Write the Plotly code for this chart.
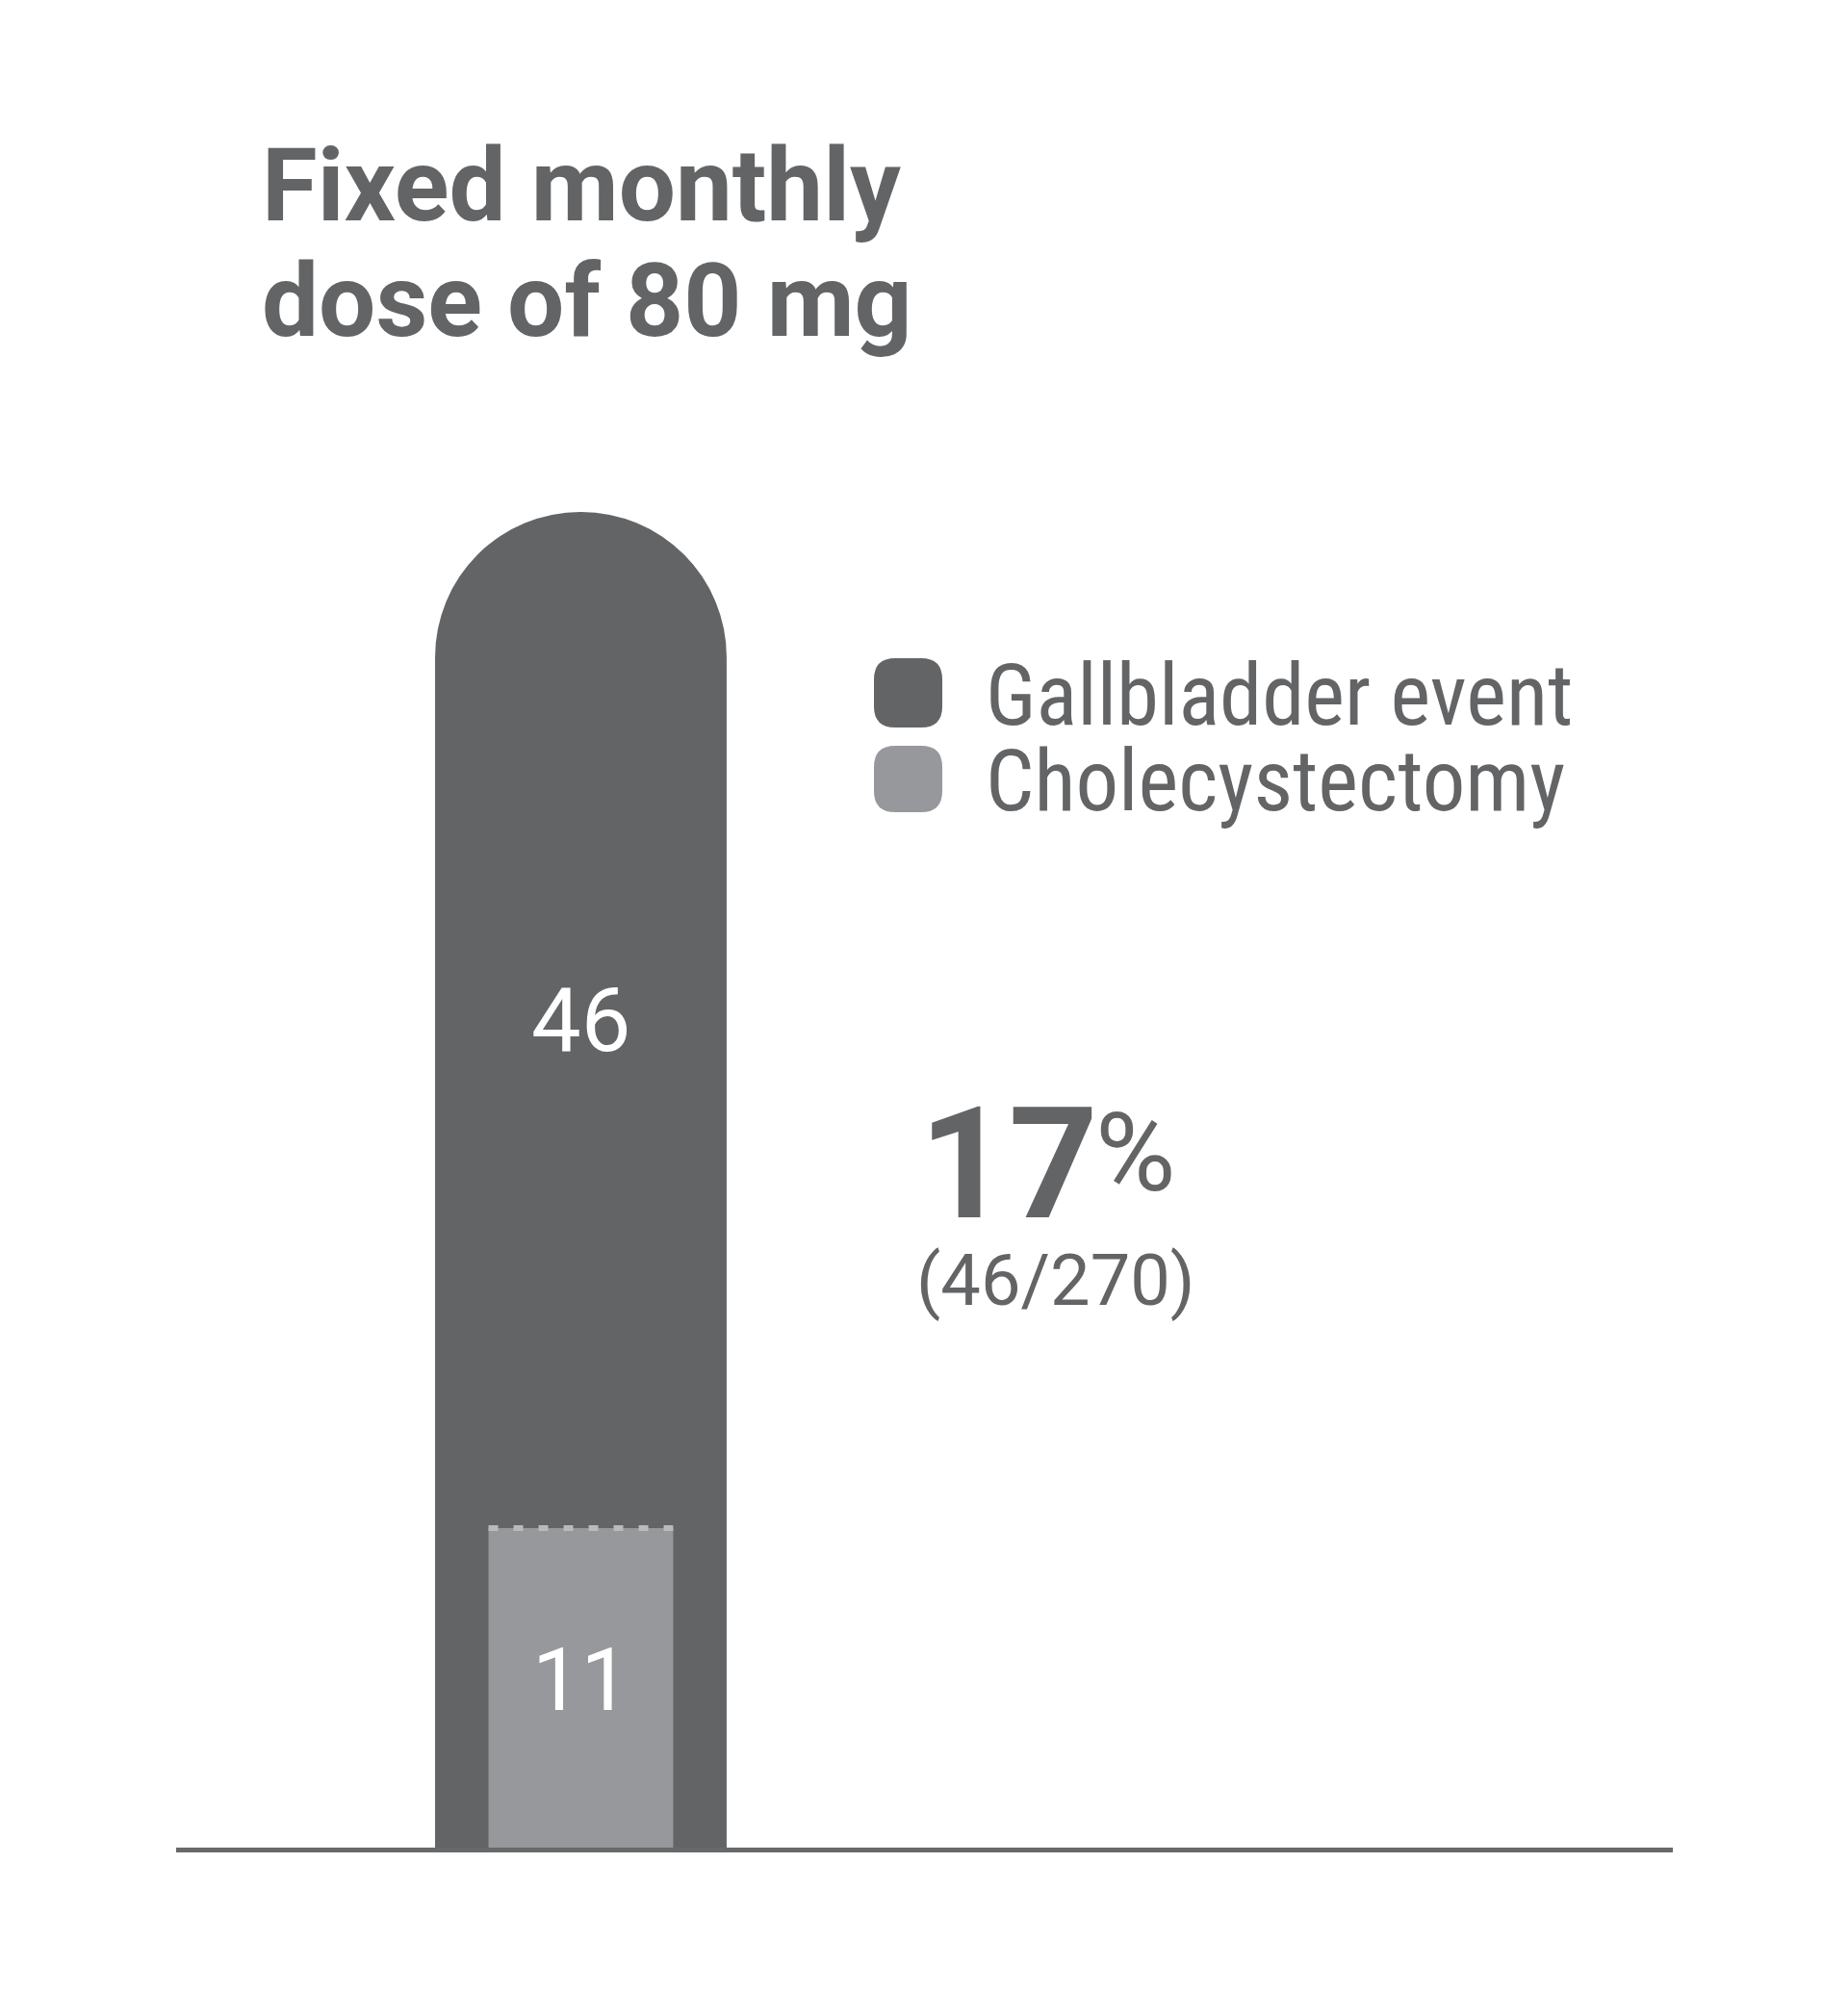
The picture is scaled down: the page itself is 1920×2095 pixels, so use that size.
import plotly.graph_objects as go

# ---- data ----
categories = ["Fixed monthly dose of 80 mg"]
gallbladder_events = [46]
cholecystectomy = [11]
total_patients = [270]
series_names = ["Gallbladder event", "Cholecystectomy"]
title_lines = ["Fixed monthly", "dose of 80 mg"]

# ---- style ----
DARK = "#636466"
LIGHT = "#97989b"
TEXT = "#636466"
FIG_W, FIG_H = 1920, 2095
OFF = 8  # page body margin
L, R, T, B = 183 - OFF, 182 + OFF, 100 - OFF, 175 + OFF
PW = FIG_W - L - R
PH = FIG_H - T - B


def px(xp):
    return (xp - OFF - L) / PW


def py(yp):
    return (FIG_H - B - (yp - OFF)) / PH


def rounded_rect(x0, y0, x1, y1, r):
    X = lambda v: px(v)
    Y = lambda v: py(v)
    return (f"M {X(x0 + r)},{Y(y0)} L {X(x1 - r)},{Y(y0)} Q {X(x1)},{Y(y0)} {X(x1)},{Y(y0 + r)} "
            f"L {X(x1)},{Y(y1 - r)} Q {X(x1)},{Y(y1)} {X(x1 - r)},{Y(y1)} "
            f"L {X(x0 + r)},{Y(y1)} Q {X(x0)},{Y(y1)} {X(x0)},{Y(y1 - r)} "
            f"L {X(x0)},{Y(y0 + r)} Q {X(x0)},{Y(y0)} {X(x0 + r)},{Y(y0)} Z")


outer_w = 0.974
inner_w = 0.617

fig = go.Figure()
fig.add_trace(go.Bar(
    x=categories, y=gallbladder_events, name=series_names[0],
    width=outer_w, marker=dict(color=DARK, cornerradius="50%", line=dict(width=0)),
    hoverinfo="skip",
))
fig.add_trace(go.Bar(
    x=categories, y=cholecystectomy, name=series_names[1],
    width=inner_w, marker=dict(color=LIGHT, line=dict(width=0)),
    hoverinfo="skip",
))

# dotted edge on top of the inner bar
fig.add_shape(type="line", xref="x", yref="y",
              x0=-inner_w / 2, x1=inner_w / 2, y0=cholecystectomy[0], y1=cholecystectomy[0],
              line=dict(color="#b9babc", width=6, dash="10px,16px"))

ann = []
ann.append(dict(x=categories[0], y=(gallbladder_events[0] + cholecystectomy[0]) / 2, xref="x", yref="y",
                text=str(gallbladder_events[0]), showarrow=False,
                font=dict(family="Roboto", size=92, color="white")))
ann.append(dict(x=categories[0], y=cholecystectomy[0] / 2, xref="x", yref="y", yshift=8,
                text=str(cholecystectomy[0]), showarrow=False,
                font=dict(family="Roboto", size=90, color="white")))

# title
ann.append(dict(x=px(270), y=py(193), xref="paper", yref="paper", xanchor="left", yanchor="middle",
                text=f"<b>{title_lines[0]}</b>", showarrow=False,
                font=dict(family="Roboto", size=105, color=TEXT)))
ann.append(dict(x=px(270), y=py(313), xref="paper", yref="paper", xanchor="left", yanchor="middle",
                text=f"<b>{title_lines[1]}</b>", showarrow=False,
                font=dict(family="Roboto", size=105, color=TEXT)))

# legend
NARROW = "Liberation Sans Narrow, Arial Narrow, Roboto Condensed, Roboto"
fig.add_shape(type="path", xref="paper", yref="paper", path=rounded_rect(908, 684, 979, 756, 22),
              fillcolor=DARK, line=dict(width=0))
fig.add_shape(type="path", xref="paper", yref="paper", path=rounded_rect(908, 775, 979, 844, 22),
              fillcolor=LIGHT, line=dict(width=0))
ann.append(dict(x=px(1022), y=py(722), xref="paper", yref="paper", xanchor="left", yanchor="middle",
                text=series_names[0], showarrow=False, font=dict(family=NARROW, size=89, color=TEXT)))
ann.append(dict(x=px(1022), y=py(811), xref="paper", yref="paper", xanchor="left", yanchor="middle",
                text=series_names[1], showarrow=False, font=dict(family=NARROW, size=89, color=TEXT)))

# percentage
pct = round(100 * gallbladder_events[0] / total_patients[0])
ann.append(dict(x=px(953), y=py(1210), xref="paper", yref="paper", xanchor="left", yanchor="middle",
                text=f"<b>{pct}</b>", showarrow=False, font=dict(family="Roboto", size=162, color=TEXT)))
ann.append(dict(x=px(1136), y=py(1198), xref="paper", yref="paper", xanchor="left", yanchor="middle",
                text="%", showarrow=False, font=dict(family="Roboto", size=114, color=TEXT)))
ann.append(dict(x=px(950), y=py(1330), xref="paper", yref="paper", xanchor="left", yanchor="middle",
                text=f"({gallbladder_events[0]}/{total_patients[0]})", showarrow=False,
                font=dict(family="Roboto", size=74, color=TEXT)))

y_top = gallbladder_events[0] * PH / 1388.0

fig.update_layout(
    width=FIG_W, height=FIG_H,
    margin=dict(l=L, r=R, t=T, b=B),
    paper_bgcolor="white", plot_bgcolor="white",
    barmode="overlay", showlegend=False,
    xaxis=dict(type="category", range=[-1.352, 3.648], showgrid=False, zeroline=False,
               showticklabels=False, ticks="", showline=True, linecolor="#68696b", linewidth=5,
               fixedrange=True),
    yaxis=dict(range=[0, y_top], visible=False, fixedrange=True),
    annotations=ann,
)

fig.write_html("out.html")
